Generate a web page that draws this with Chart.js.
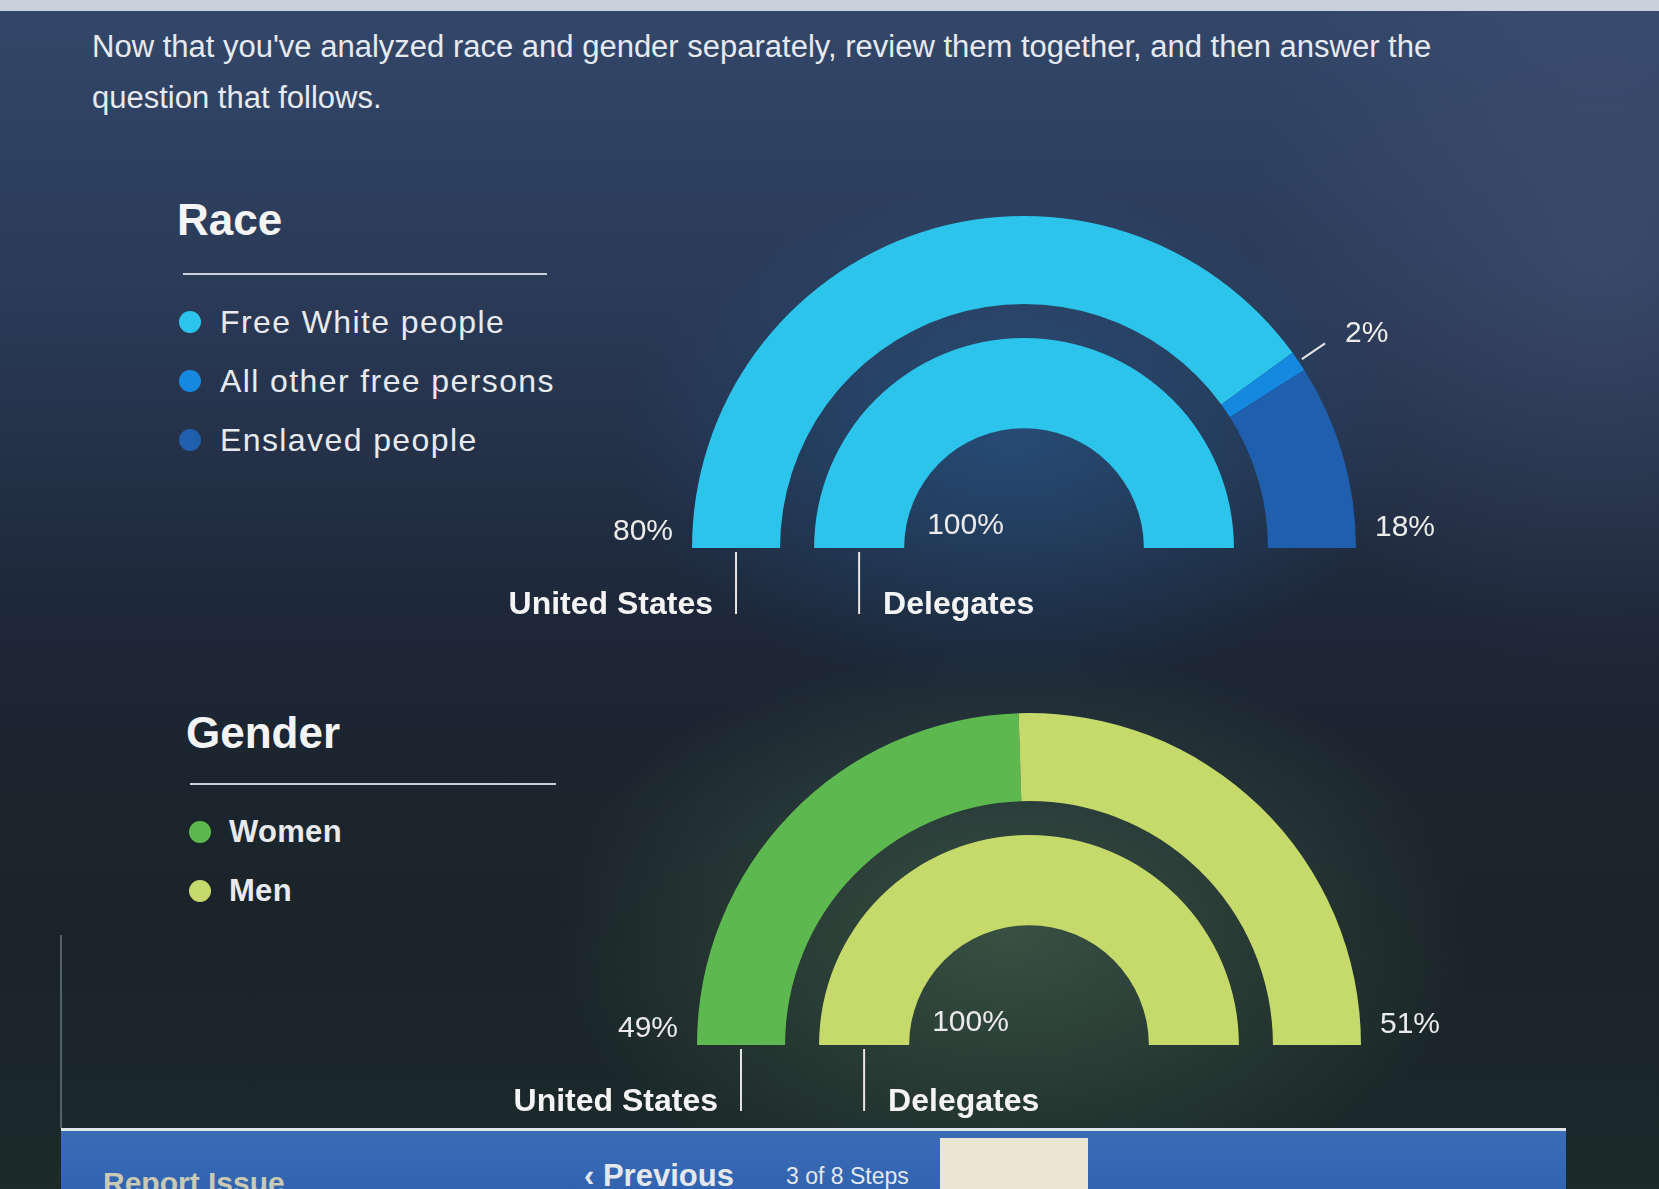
<!DOCTYPE html>
<html>
<head>
<meta charset="utf-8">
<title>Race and gender</title>
<script src="https://cdn.jsdelivr.net/npm/chart.js@4.4.0/dist/chart.umd.min.js"></script>
<style>
    html, body { margin: 0; padding: 0; }
    body {
        width: 1659px;
        height: 1189px;
        overflow: hidden;
        position: relative;
        font-family: "Liberation Sans", Arial, sans-serif;
        color: #eef0f3;
        background:
            radial-gradient(ellipse 560px 360px at 1010px 440px, rgba(40, 100, 160, 0.50), rgba(0, 0, 0, 0) 70%),
            radial-gradient(ellipse 660px 400px at 1010px 930px, rgba(80, 118, 88, 0.55), rgba(0, 0, 0, 0) 70%),
            radial-gradient(ellipse 500px 600px at 1600px 250px, rgba(85, 95, 135, 0.35), rgba(0, 0, 0, 0) 70%),
            linear-gradient(180deg, #33476a 0%, #2a3a57 25%, #1d2738 52%, #1a2427 78%, #1c2a2a 100%);
    }
    .topstrip { position: absolute; left: 0; top: 0; width: 100%; height: 11px; background: #c8d1db; }
    .intro {
        position: absolute; left: 92px; top: 21px; white-space: nowrap;
        font-size: 31px; line-height: 51px; color: #e6eaf0;
    }
    .abs { position: absolute; white-space: nowrap; }
    .heading { font-size: 44px; font-weight: bold; line-height: 44px; color: #f4f4f4; }
    .rule { height: 2px; background: #c9d1dc; }
    .item { font-size: 32px; line-height: 36px; letter-spacing: 1.4px; color: #e8eaee; }
    .item.strong { font-weight: bold; letter-spacing: 0.3px; font-size: 31px; }
    .dot { width: 22px; height: 22px; border-radius: 50%; }
    canvas { position: absolute; }
    .bar {
        position: absolute; left: 61px; top: 1128px; width: 1505px; height: 70px;
        background: linear-gradient(180deg, #3a6cb8, #2f62ae);
        border-top: 3px solid #dfe7ec;
    }
    .edge { position: absolute; left: 60px; top: 935px; width: 2px; height: 193px; background: rgba(150, 170, 170, 0.45); }
    .barText { position: absolute; white-space: nowrap; font-weight: bold; color: #e4e8ee; }
</style>
</head>
<body>
<div class="topstrip"></div>
<div class="intro">Now that you've analyzed race and gender separately, review them together, and then answer the<br>question that follows.</div>

<!-- Race legend -->
<div class="abs heading" style="left:177px; top:198px;">Race</div>
<div class="abs rule" style="left:183px; top:273px; width:364px;"></div>
<div id="race-legend"></div>

<!-- Gender legend -->
<div class="abs heading" style="left:186px; top:711px;">Gender</div>
<div class="abs rule" style="left:190px; top:783px; width:366px;"></div>
<div id="gender-legend"></div>

<canvas id="race-chart" width="1024" height="432" style="left:472px; top:206px;"></canvas>
<canvas id="gender-chart" width="1024" height="432" style="left:477px; top:703px;"></canvas>

<div class="edge"></div>
<div class="bar"></div>
<div class="barText" style="left:103px; top:1166px; font-size:30px; color:#c9c9b4;">Report Issue</div>
<div class="barText" style="left:584px; top:1158px; font-size:31px;">‹ Previous</div>
<div class="barText" style="left:786px; top:1163px; font-size:23px; font-weight:normal;">3 of 8 Steps</div>
<div class="abs" style="left:940px; top:1138px; width:148px; height:60px; background:#e9e7d4;"></div>

<script>
// Race data
const raceCategories = ['Free White people', 'All other free persons', 'Enslaved people'];
const raceUnitedStates = [80, 2, 18];
const raceDelegates = [100, 0, 0];
const raceColors = ['#2cc4ea', '#1588e0', '#1f5fae'];

// Gender data
const genderCategories = ['Women', 'Men'];
const genderUnitedStates = [49, 51];
const genderDelegates = [0, 100];
const genderColors = ['#5db94f', '#c6d96b'];

const groupNames = ['United States', 'Delegates'];

// Function to build the HTML legend next to a chart
function buildLegend(id, categories, colors, left, textLeft, firstY, step, strong) {
    const holder = document.getElementById(id);
    categories.forEach((name, i) => {
        const y = firstY + i * step;
        const dot = document.createElement('div');
        dot.className = 'abs dot';
        dot.style.left = (left - 11) + 'px';
        dot.style.top = (y - 11) + 'px';
        dot.style.background = colors[i];
        holder.appendChild(dot);

        const label = document.createElement('div');
        label.className = strong ? 'abs item strong' : 'abs item';
        label.style.left = textLeft + 'px';
        label.style.top = (y - 18) + 'px';
        label.textContent = name;
        holder.appendChild(label);
    });
}

buildLegend('race-legend', raceCategories, raceColors, 190, 220, 322, 59, false);
buildLegend('gender-legend', genderCategories, genderColors, 200, 229, 832, 59, true);

// Plugin that writes the percentages and the ring names
const ringLabels = {
    id: 'ringLabels',
    afterDatasetsDraw(chart) {
        const ctx = chart.ctx;
        const rings = chart.data.datasets
            .map((ds, i) => ({ ds: ds, meta: chart.getDatasetMeta(i) }))
            .filter(r => !r.ds.spacer);
        const props = ['x', 'y', 'startAngle', 'endAngle', 'innerRadius', 'outerRadius'];

        ctx.save();
        ctx.fillStyle = '#ebebeb';
        ctx.strokeStyle = '#e6e6e6';
        ctx.lineWidth = 2;
        ctx.textBaseline = 'middle';
        ctx.font = '30px "Liberation Sans", Arial, sans-serif';

        // outer ring values
        const outer = rings[0];
        const arcs = outer.meta.data;
        arcs.forEach((arc, j) => {
            const value = outer.ds.data[j];
            if (!value) return;
            const p = arc.getProps(props, true);
            const text = value + '%';
            if (j === 0) {
                ctx.textAlign = 'right';
                ctx.fillText(text, p.x - p.outerRadius - 19, p.y - 16);
            } else if (j === arcs.length - 1) {
                ctx.textAlign = 'left';
                ctx.fillText(text, p.x + p.outerRadius + 19, p.y - 20);
            } else {
                const a = (p.startAngle + p.endAngle) / 2;
                const x1 = p.x + Math.cos(a) * (p.outerRadius + 4);
                const y1 = p.y + Math.sin(a) * (p.outerRadius + 4);
                const x2 = p.x + Math.cos(a) * (p.outerRadius + 32);
                const y2 = p.y + Math.sin(a) * (p.outerRadius + 32);
                ctx.beginPath();
                ctx.moveTo(x1, y1);
                ctx.lineTo(x2, y2);
                ctx.stroke();
                ctx.textAlign = 'left';
                ctx.fillText(text, x2 + 20, y2 - 10);
            }
        });

        // inner ring value, in the hole
        const inner = rings[1];
        const k = inner.ds.data.findIndex(v => v > 0);
        if (k >= 0) {
            const p = inner.meta.data[k].getProps(props, true);
            ctx.textAlign = 'left';
            ctx.fillText(inner.ds.data[k] + '%', p.x - p.innerRadius + 23, p.y - 22);
        }

        // ring names with their ticks
        ctx.font = 'bold 32px "Liberation Sans", Arial, sans-serif';
        ctx.fillStyle = '#f4f4f4';
        rings.forEach((r, i) => {
            const p = r.meta.data[0].getProps(props, true);
            const lx = p.x - (p.innerRadius + p.outerRadius) / 2;
            ctx.beginPath();
            ctx.moveTo(lx, p.y + 4);
            ctx.lineTo(lx, p.y + 66);
            ctx.stroke();
            if (i === 0) {
                ctx.textAlign = 'right';
                ctx.fillText(r.ds.label, lx - 23, p.y + 57);
            } else {
                ctx.textAlign = 'left';
                ctx.fillText(r.ds.label, lx + 24, p.y + 57);
            }
        });
        ctx.restore();
    }
};

// Function to make one half-ring chart
function makeRings(canvasId, categories, usValues, delegateValues, colors) {
    const ctx = document.getElementById(canvasId).getContext('2d');
    return new Chart(ctx, {
        type: 'doughnut',
        data: {
            labels: categories,
            datasets: [
                { label: groupNames[0], data: usValues, backgroundColor: colors, weight: 88 },
                { label: '', data: [1], backgroundColor: 'rgba(0,0,0,0)', weight: 34, spacer: true },
                { label: groupNames[1], data: delegateValues, backgroundColor: colors, weight: 90 }
            ]
        },
        options: {
            responsive: false,
            animation: false,
            events: [],
            rotation: -90,
            circumference: 180,
            cutout: '36.1%',
            layout: { padding: { left: 220, right: 140, top: 10, bottom: 90 } },
            elements: { arc: { borderWidth: 0 } },
            plugins: {
                legend: { display: false },
                tooltip: { enabled: false }
            }
        },
        plugins: [ringLabels]
    });
}

makeRings('race-chart', raceCategories, raceUnitedStates, raceDelegates, raceColors);
makeRings('gender-chart', genderCategories, genderUnitedStates, genderDelegates, genderColors);
</script>
</body>
</html>
